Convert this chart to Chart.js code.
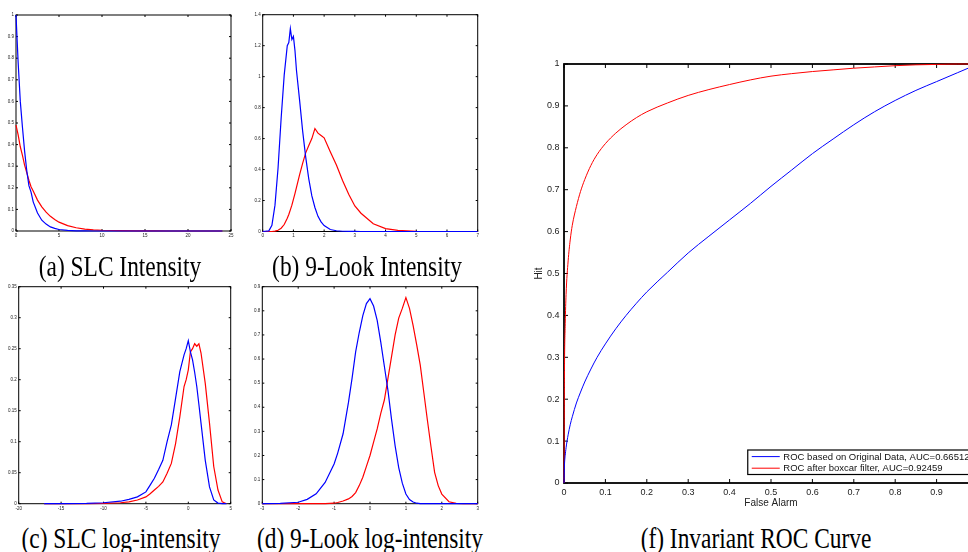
<!DOCTYPE html>
<html>
<head>
<meta charset="utf-8">
<script src="https://cdn.jsdelivr.net/npm/chart.js@4.4.0/dist/chart.umd.min.js"></script>
<style>
  html, body { margin: 0; padding: 0; background: #fff; width: 968px; height: 552px; overflow: hidden; position: relative; }
  .plot { position: absolute; }
  .cap {
    position: absolute; width: 300px; text-align: center; white-space: nowrap;
    font-family: "Liberation Serif", "Times New Roman", serif; font-size: 30px; line-height: 30px;
    color: #000; transform: scaleX(0.78); transform-origin: center;
  }
</style>
</head>
<body>
<canvas id="chartA" class="plot" width="240" height="245" style="left:0;top:0"></canvas>
<canvas id="chartB" class="plot" width="245" height="245" style="left:240px;top:0"></canvas>
<canvas id="chartC" class="plot" width="240" height="235" style="left:0;top:280px"></canvas>
<canvas id="chartD" class="plot" width="245" height="235" style="left:240px;top:280px"></canvas>
<canvas id="chartF" class="plot" width="480" height="459" style="left:520px;top:50px"></canvas>

<div class="cap" style="left:-30px;top:251px">(a) SLC Intensity</div>
<div class="cap" style="left:217px;top:251px">(b) 9-Look Intensity</div>
<div class="cap" style="left:-29px;top:523px">(c) SLC log-intensity</div>
<div class="cap" style="left:220px;top:523px">(d) 9-Look log-intensity</div>
<div class="cap" style="left:606px;top:523px">(f) Invariant ROC Curve</div>

<script>
// (a) SLC intensity histogram
const slcIntX = [0, 0.25, 0.5, 0.75, 1, 1.25, 1.5, 1.75, 2, 2.5, 3, 3.5, 4, 4.5, 5, 6, 7, 8, 9, 10, 12, 14, 16, 18, 20, 22, 24];
const slcIntOrig = [1.0, 0.78, 0.6, 0.48, 0.37, 0.28, 0.21, 0.18, 0.135, 0.083, 0.05, 0.032, 0.019, 0.012, 0.007, 0.0025, 0.001, 0.0004, 0.0001, 0, 0, 0, 0, 0, 0, 0, 0];
const slcIntBoxcar = [0.49, 0.445, 0.39, 0.35, 0.305, 0.27, 0.235, 0.205, 0.185, 0.143, 0.112, 0.087, 0.068, 0.053, 0.041, 0.025, 0.015, 0.009, 0.0055, 0.0034, 0.0013, 0.0005, 0.0002, 0.0001, 0, 0, 0];

// (b) 9-look intensity histogram
const lookIntX = [0, 0.2, 0.3, 0.4, 0.5, 0.6, 0.7, 0.8, 0.85, 0.9, 0.95, 1.0, 1.05, 1.1, 1.2, 1.3, 1.4, 1.5, 1.6, 1.7, 1.8, 1.9, 2.0, 2.2, 2.4, 2.6, 2.8, 3.0, 3.2, 3.6, 4.0, 4.4, 5.0, 6.0, 7.0];
const lookIntOrig = [0, 0.004, 0.04, 0.17, 0.41, 0.73, 1.01, 1.2, 1.22, 1.31, 1.24, 1.26, 1.17, 1.04, 0.85, 0.65, 0.48, 0.34, 0.23, 0.155, 0.098, 0.062, 0.038, 0.013, 0.005, 0.0015, 0.0005, 0.0002, 0, 0, 0, 0, 0, 0, 0];
const lookIntBoxcar = [0, 0, 0, 0.002, 0.008, 0.021, 0.045, 0.086, 0.11, 0.14, 0.17, 0.208, 0.245, 0.285, 0.365, 0.44, 0.508, 0.555, 0.6, 0.665, 0.635, 0.62, 0.605, 0.515, 0.43, 0.33, 0.24, 0.165, 0.118, 0.05, 0.019, 0.007, 0.0012, 0, 0];

// (c) SLC log-intensity histogram
const slcLogX = [-17, -15, -12, -10, -8, -7, -6, -5, -4.5, -4, -3.5, -3, -2.5, -2, -1.5, -1, -0.5, -0.25, 0, 0.25, 0.5, 0.75, 1, 1.25, 1.5, 2, 2.5, 3, 3.5, 4, 4.5];
const slcLogOrig = [0, 0.0001, 0.0005, 0.0015, 0.004, 0.007, 0.011, 0.019, 0.03, 0.041, 0.055, 0.07, 0.1, 0.127, 0.17, 0.213, 0.24, 0.25, 0.263, 0.245, 0.232, 0.212, 0.189, 0.16, 0.13, 0.07, 0.027, 0.006, 0.001, 0, 0];
const slcLogBoxcar = [0, 0, 0.0002, 0.0005, 0.0015, 0.003, 0.006, 0.011, 0.016, 0.022, 0.028, 0.035, 0.049, 0.065, 0.097, 0.14, 0.189, 0.2, 0.216, 0.245, 0.25, 0.258, 0.254, 0.258, 0.243, 0.194, 0.13, 0.06, 0.022, 0.003, 0];

// (d) 9-look log-intensity histogram
const lookLogX = [-3, -2.5, -2, -1.75, -1.5, -1.25, -1, -0.9, -0.75, -0.6, -0.5, -0.4, -0.3, -0.2, -0.1, 0, 0.1, 0.2, 0.3, 0.4, 0.5, 0.6, 0.7, 0.8, 0.9, 1.0, 1.1, 1.2, 1.3, 1.4, 1.5, 1.6, 1.7, 1.8, 1.9, 2.0, 2.2, 2.4, 2.6, 3];
const lookLogOrig = [0, 0.001, 0.006, 0.018, 0.041, 0.088, 0.165, 0.21, 0.29, 0.42, 0.52, 0.63, 0.71, 0.78, 0.83, 0.85, 0.82, 0.76, 0.67, 0.57, 0.47, 0.35, 0.24, 0.15, 0.085, 0.04, 0.017, 0.007, 0.002, 0, 0, 0, 0, 0, 0, 0, 0, 0, 0, 0];
const lookLogBoxcar = [0, 0, 0, 0, 0, 0.0005, 0.002, 0.005, 0.011, 0.02, 0.03, 0.046, 0.075, 0.11, 0.155, 0.2, 0.255, 0.31, 0.375, 0.43, 0.52, 0.61, 0.7, 0.77, 0.81, 0.855, 0.81, 0.74, 0.66, 0.575, 0.46, 0.345, 0.235, 0.13, 0.075, 0.04, 0.008, 0.001, 0, 0];

// (f) ROC curves
const rocFalseAlarm = [0, 0.001, 0.003, 0.005, 0.01, 0.015, 0.02, 0.03, 0.04, 0.05, 0.065, 0.08, 0.1, 0.125, 0.15, 0.175, 0.2, 0.25, 0.3, 0.35, 0.4, 0.45, 0.5, 0.55, 0.6, 0.65, 0.7, 0.75, 0.8, 0.85, 0.9, 0.95, 1.0];
const rocHitOrig = [0, 0.04, 0.066, 0.084, 0.115, 0.139, 0.158, 0.191, 0.217, 0.241, 0.272, 0.3, 0.332, 0.368, 0.4, 0.429, 0.456, 0.503, 0.549, 0.589, 0.628, 0.667, 0.708, 0.747, 0.786, 0.821, 0.855, 0.886, 0.913, 0.937, 0.958, 0.979, 1.0];
const rocHitBoxcar = [0, 0.25, 0.38, 0.45, 0.53, 0.58, 0.615, 0.66, 0.696, 0.724, 0.758, 0.784, 0.81, 0.835, 0.855, 0.872, 0.886, 0.907, 0.925, 0.939, 0.951, 0.962, 0.971, 0.977, 0.982, 0.986, 0.99, 0.993, 0.996, 0.998, 0.999, 1.0, 1.0];
const rocLabels = ['ROC based on Original Data, AUC=0.66512', 'ROC after boxcar filter, AUC=0.92459'];

const BLUE = '#0000ff';
const RED = '#ff0000';

Chart.defaults.font.family = '"Liberation Sans", Arial, sans-serif';
Chart.defaults.color = '#222';

function pts(xs, ys) {
    return xs.map((x, i) => ({ x: x, y: ys[i] }));
}

// tick labels the way matlab prints them: 1 not 1.0, 0.3 not 0.30
const tickText = v => String(+Number(v).toFixed(4));

// matlab style box with inward ticks on all four sides
const matlabAxes = {
    id: 'matlabAxes',
    beforeDatasetsDraw(chart, args, opts) {
        const { ctx, chartArea: a } = chart;
        const xs = chart.scales.x, ys = chart.scales.y;
        const len = opts.tickLength;
        ctx.save();
        ctx.strokeStyle = '#000';
        ctx.lineWidth = 1;
        ctx.beginPath();
        xs.ticks.forEach(t => {
            const px = xs.getPixelForValue(t.value);
            ctx.moveTo(px, a.bottom); ctx.lineTo(px, a.bottom - len);
            ctx.moveTo(px, a.top); ctx.lineTo(px, a.top + len);
        });
        ys.ticks.forEach(t => {
            const py = ys.getPixelForValue(t.value);
            ctx.moveTo(a.left, py); ctx.lineTo(a.left + len, py);
            ctx.moveTo(a.right, py); ctx.lineTo(a.right - len, py);
        });
        ctx.stroke();
        ctx.lineWidth = opts.lineWidth;
        ctx.strokeRect(a.left, a.top, a.right - a.left, a.bottom - a.top);
        ctx.restore();
    }
};

// legend box in the lower right corner of the roc plot
const rocLegend = {
    id: 'rocLegend',
    afterDatasetsDraw(chart) {
        const { ctx, chartArea: a } = chart;
        const sets = chart.data.datasets;
        ctx.save();
        ctx.font = '9.5px "Liberation Sans", Arial, sans-serif';
        const textW = Math.max(...sets.map(d => ctx.measureText(d.label).width));
        const rowH = 11.6;
        const w = 4 + 28 + 3.6 + textW + 4;
        const h = sets.length * rowH + 1.3;
        const left = a.right - 4.5 - w;
        const top = a.bottom - 8.5 - h;
        ctx.fillStyle = '#fff';
        ctx.fillRect(left, top, w, h);
        ctx.strokeStyle = '#000';
        ctx.lineWidth = 1.2;
        ctx.strokeRect(left, top, w, h);
        ctx.textBaseline = 'middle';
        sets.forEach((d, i) => {
            const cy = top + 6.6 + i * rowH;
            ctx.strokeStyle = d.borderColor;
            ctx.lineWidth = 1;
            ctx.beginPath();
            ctx.moveTo(left + 4, cy);
            ctx.lineTo(left + 32, cy);
            ctx.stroke();
            ctx.fillStyle = '#111';
            ctx.fillText(d.label, left + 35.6, cy + 0.5);
        });
        ctx.restore();
    }
};

function lineSet(label, xs, ys, colour, width) {
    return {
        label: label,
        data: pts(xs, ys),
        borderColor: colour,
        borderWidth: width,
        pointRadius: 0,
        tension: 0,
        fill: false,
        clip: 4
    };
}

function histChart(id, xs, orig, boxcar, xr, yr, box) {
    const ctx = document.getElementById(id).getContext('2d');
    return new Chart(ctx, {
        type: 'line',
        data: {
            datasets: [
                lineSet('original', xs, orig, BLUE, 1.2),
                lineSet('boxcar', xs, boxcar, RED, 1.2)
            ]
        },
        plugins: [matlabAxes],
        options: {
            responsive: false,
            animation: false,
            events: [],
            layout: { padding: { left: 0, right: box.right, top: box.top, bottom: 0 } },
            plugins: {
                legend: { display: false },
                tooltip: { enabled: false },
                matlabAxes: { tickLength: 2, lineWidth: 1 }
            },
            scales: {
                x: {
                    type: 'linear', min: xr[0], max: xr[1],
                    grid: { display: false, drawTicks: false }, border: { display: false },
                    ticks: { stepSize: xr[2], autoSkip: false, maxRotation: 0, padding: 2, font: { size: 4.5 }, callback: tickText },
                    afterFit: s => { s.height = box.xHeight; }
                },
                y: {
                    type: 'linear', min: yr[0], max: yr[1],
                    grid: { display: false, drawTicks: false }, border: { display: false },
                    ticks: { stepSize: yr[2], autoSkip: false, padding: 2, font: { size: 4.5 }, callback: tickText },
                    afterFit: s => { s.width = box.yWidth; }
                }
            }
        }
    });
}

histChart('chartA', slcIntX, slcIntOrig, slcIntBoxcar, [0, 25, 5], [0, 1, 0.1],
    { right: 9, top: 15, xHeight: 14, yWidth: 16 });
histChart('chartB', lookIntX, lookIntOrig, lookIntBoxcar, [0, 7, 1], [0, 1.4, 0.2],
    { right: 7.3, top: 14.7, xHeight: 13.5, yWidth: 22.7 });
histChart('chartC', slcLogX, slcLogOrig, slcLogBoxcar, [-20, 5, 5], [0, 0.35, 0.05],
    { right: 9.3, top: 6.7, xHeight: 11.3, yWidth: 18.7 });
histChart('chartD', lookLogX, lookLogOrig, lookLogBoxcar, [-3, 3, 1], [0, 0.9, 0.1],
    { right: 7.3, top: 6.7, xHeight: 11.3, yWidth: 22.3 });

// roc chart
const rocCtx = document.getElementById('chartF').getContext('2d');
const rocChart = new Chart(rocCtx, {
    type: 'line',
    data: {
        datasets: [
            lineSet(rocLabels[0], rocFalseAlarm, rocHitOrig, BLUE, 1),
            lineSet(rocLabels[1], rocFalseAlarm, rocHitBoxcar, RED, 1)
        ]
    },
    plugins: [matlabAxes, rocLegend],
    options: {
        responsive: false,
        animation: false,
        events: [],
        elements: { line: { cubicInterpolationMode: 'monotone' } },
        layout: { padding: { left: 0, right: 22, top: 14, bottom: 0 } },
        plugins: {
            legend: { display: false },
            tooltip: { enabled: false },
            matlabAxes: { tickLength: 4, lineWidth: 1.8 }
        },
        scales: {
            x: {
                type: 'linear', min: 0, max: 1,
                grid: { display: false, drawTicks: false }, border: { display: false },
                ticks: { stepSize: 0.1, autoSkip: false, maxRotation: 0, padding: 4, font: { size: 9 }, callback: tickText },
                title: { display: true, text: 'False Alarm', font: { size: 10 }, padding: { top: 0, bottom: 0 } },
                afterFit: s => { s.height = 26; }
            },
            y: {
                type: 'linear', min: 0, max: 1,
                grid: { display: false, drawTicks: false }, border: { display: false },
                ticks: { stepSize: 0.1, autoSkip: false, padding: 4.5, font: { size: 9 }, callback: tickText },
                title: { display: true, text: 'Hit', font: { size: 10 }, padding: { top: 13.5, bottom: 0 } },
                afterFit: s => { s.width = 44; }
            }
        }
    }
});
</script>
</body>
</html>
